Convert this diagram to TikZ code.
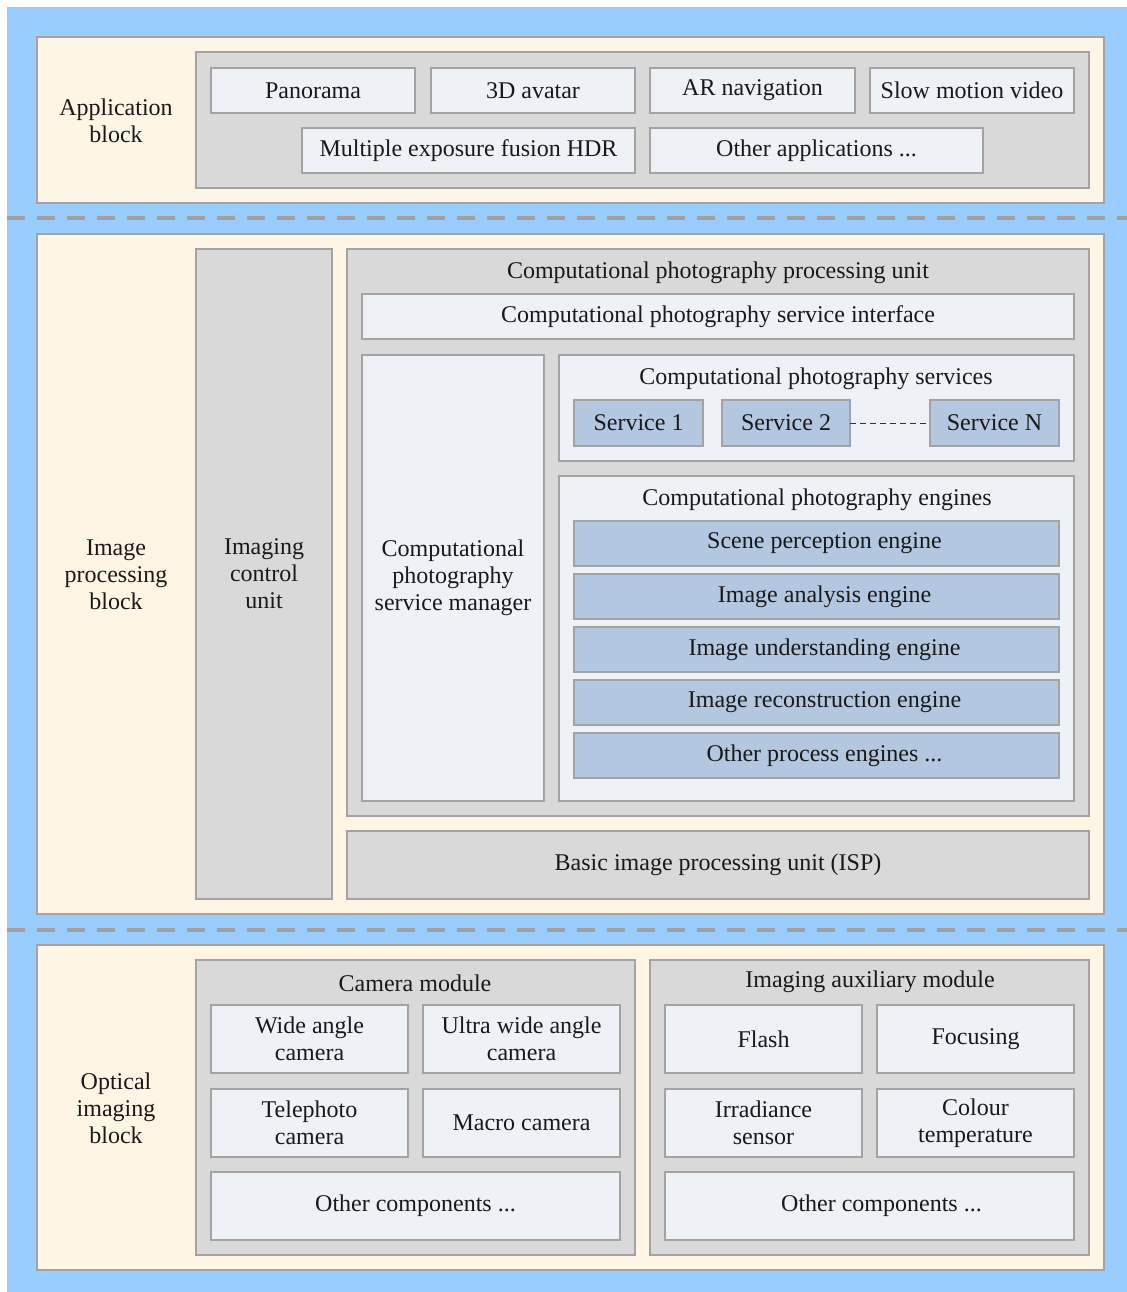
\documentclass[tikz,border=0pt]{standalone}
\usepackage{fontspec}
\setmainfont{Liberation Serif}
\definecolor{bgblue}{HTML}{99CCFF}
\definecolor{cream}{HTML}{FFF5E5}
\definecolor{gbox}{HTML}{D9D9D9}
\definecolor{lbox}{HTML}{EEF2F7}
\definecolor{sblue}{HTML}{B4C7E1}
\definecolor{edge}{HTML}{A3A3A3}
\definecolor{sep}{HTML}{A0A0A0}
\newcommand\rbox[7]{\node[#2, anchor=north west, minimum width={(#5-#3)*0.75pt}, minimum height={(#6-#4)*0.75pt}] (#1) at (#3,#4) {#7};}
\begin{document}
\begin{tikzpicture}[x=0.75pt,y=-0.75pt,
  every node/.style={font=\fontsize{18}{20.25}\selectfont, inner sep=0pt, outer sep=0pt, align=center, text=black!90},
  block/.style={draw=edge, line width=1.1pt, fill=cream},
  grey/.style={draw=edge, line width=1.1pt, fill=gbox},
  light/.style={draw=edge, line width=1.1pt, fill=lbox},
  blu/.style={draw=edge, line width=1.1pt, fill=sblue},
  engine/.style={blu, text width=362pt, align=center},
  sepline/.style={draw=sep, line width=2.6pt, dash pattern=on 13.5pt off 9pt},
  lbl/.style={}
]
\useasboundingbox (0,0) rectangle (1127,1292);
\fill[bgblue] (7,7) rectangle (1127,1292);
% separators
\draw[sepline] (7,218) -- (1127,218);
\draw[sepline] (7,930) -- (1127,930);
% Application block
\rbox{appblk}{block}{37}{37}{1104}{203}{}
\node[lbl] (applbl) at (116,121) {Application\\block};
\rbox{appgrp}{grey}{196}{52}{1089}{188}{}
\rbox{pano}{light}{211}{68}{415}{113}{Panorama}
\rbox{avatar}{light}{431}{68}{635}{113}{3D avatar}
\rbox{arnav}{light}{650}{68}{855}{113}{AR navigation}
\rbox{slow}{light}{870}{68}{1074}{113}{Slow motion video}
\rbox{hdr}{light}{302}{128}{635}{173}{Multiple exposure fusion HDR}
\rbox{otherapp}{light}{650}{128}{983}{173}{Other applications ...}
% Image processing block
\rbox{ipblk}{block}{37}{234}{1104}{914}{}
\node[lbl] (iplbl) at (116,575) {Image\\processing\\block};
\rbox{icu}{grey}{196}{249}{332}{899}{Imaging\\control\\unit}
\rbox{cppu}{grey}{347}{249}{1089}{816}{}
\node[lbl] (cppulbl) at (718,273) {Computational photography processing unit};
\rbox{csi}{light}{362}{294}{1074}{339}{\raisebox{-1.5pt}{Computational photography service interface}}
\rbox{csm}{light}{362}{355}{544}{801}{Computational\\photography\\service manager}
\rbox{cps}{light}{559}{355}{1074}{461}{}
\node[lbl] (cpslbl) at (816,379) {Computational photography services};
\rbox{s1}{blu}{574}{400}{703}{446}{Service 1}
\rbox{s2}{blu}{722}{400}{850}{446}{Service 2}
\rbox{sN}{blu}{930}{400}{1059}{446}{Service N}
\draw[black!80, line width=0.7pt, dash pattern=on 4.5pt off 3pt] (s2.east) -- (sN.west);
\rbox{cpe}{light}{559}{476}{1074}{801}{}
\node[lbl] (cpelbl) at (817,500) {Computational photography engines};
\rbox{e1}{blu}{574}{521}{1059}{566}{\hspace*{12pt}\raisebox{-2pt}{Scene perception engine}}
\rbox{e2}{blu}{574}{574}{1059}{619}{\hspace*{12pt}\raisebox{-1pt}{Image analysis engine}}
\rbox{e3}{blu}{574}{627}{1059}{672}{\hspace*{12pt}\raisebox{-1pt}{Image understanding engine}}
\rbox{e4}{blu}{574}{680}{1059}{725}{\hspace*{12pt}\raisebox{-1pt}{Image reconstruction engine}}
\rbox{e5}{blu}{574}{733}{1059}{778}{\hspace*{12pt}Other process engines ...}
\rbox{isp}{grey}{347}{831}{1089}{899}{Basic image processing unit (ISP)}
% Optical imaging block
\rbox{opblk}{block}{37}{945}{1104}{1270}{}
\node[lbl] (oplbl) at (116,1108) {Optical\\imaging\\block};
\rbox{cam}{grey}{196}{960}{635}{1255}{}
\node[lbl] (camlbl) at (415,983) {Camera module};
\rbox{wide}{light}{211}{1005}{408}{1073}{Wide angle\\camera}
\rbox{uwide}{light}{423}{1005}{620}{1073}{Ultra wide angle\\camera}
\rbox{tele}{light}{211}{1089}{408}{1157}{Telephoto\\camera}
\rbox{macro}{light}{423}{1089}{620}{1157}{Macro camera}
\rbox{camother}{light}{211}{1172}{620}{1240}{Other components ...}
\rbox{aux}{grey}{650}{960}{1089}{1255}{}
\node[lbl] (auxlbl) at (870,982) {Imaging auxiliary module};
\rbox{flash}{light}{665}{1005}{862}{1073}{Flash}
\rbox{focus}{light}{877}{1005}{1074}{1073}{Focusing}
\rbox{irr}{light}{665}{1089}{862}{1157}{Irradiance\\sensor}
\rbox{colt}{light}{877}{1089}{1074}{1157}{Colour\\temperature}
\rbox{auxother}{light}{665}{1172}{1074}{1240}{\hspace*{18pt}Other components ...}
\end{tikzpicture}
\end{document}
